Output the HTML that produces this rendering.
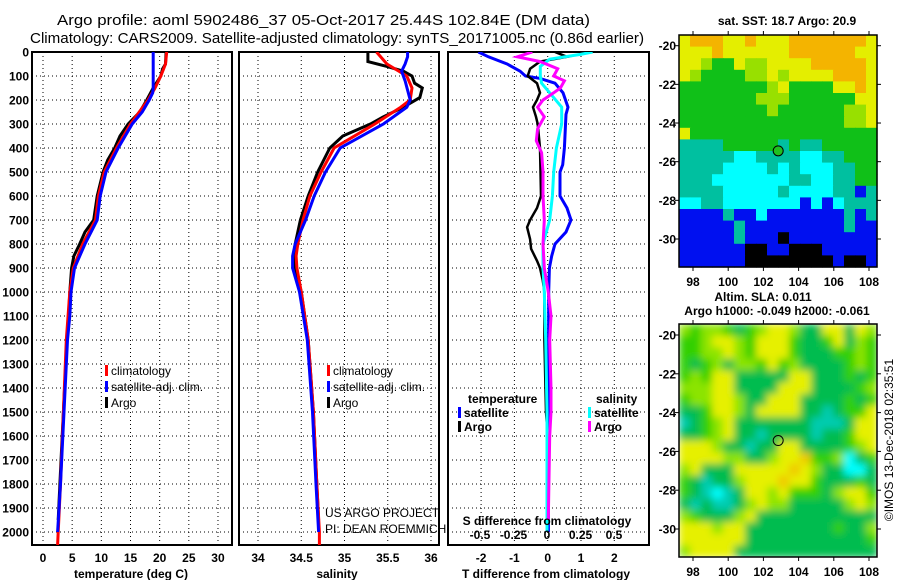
<!DOCTYPE html>
<html><head><meta charset="utf-8"><style>
html,body{margin:0;padding:0;background:#fff;}
svg{display:block;font-family:"Liberation Sans",sans-serif;}
.tk{font-weight:bold;font-size:12px;fill:#000;}
.lg{font-size:12px;fill:#000;}
</style></head><body>
<svg id="fig" width="900" height="580" viewBox="0 0 900 580" xmlns="http://www.w3.org/2000/svg">
<text x="57" y="25" font-size="14.5" textLength="533" lengthAdjust="spacingAndGlyphs">Argo profile: aoml 5902486_37 05-Oct-2017 25.44S 102.84E (DM data)</text>
<text x="30" y="43" font-size="14.5" textLength="614" lengthAdjust="spacingAndGlyphs">Climatology: CARS2009. Satellite-adjusted climatology: synTS_20171005.nc (0.86d earlier)</text>
<g id="root"></g>
</svg>
<script>
// ---- Temperature panel data ----
const tArgoD=[0,50,70,100,150,200,250,300,350,400,450,500,600,700,750,800,850,900,1000,1100,1200,1400,1600,1800,1950];
const tArgo=[21.1,21.0,20.5,20.2,18.9,17.8,16.6,14.6,13.2,12.3,11.1,10.3,9.3,8.7,7.2,6.3,5.3,4.9,4.6,4.4,4.1,3.7,3.3,2.9,2.6];
const tClimD=[0,50,100,150,200,300,400,500,600,700,800,900,1000,1200,1500,1800,2000,2054];
const tClim=[21.2,21.0,20.2,19.2,18.0,15.0,12.6,10.5,9.5,9.0,6.8,5.2,4.6,4.0,3.5,3.0,2.6,2.5];
const tSatD=[0,150,170,200,250,300,400,500,600,700,800,900,1000,1100,1200,1500,1800,2000];
const tSat=[18.9,18.9,18.8,18.2,17.0,15.3,12.9,10.8,9.8,9.3,7.2,5.4,4.8,4.6,4.2,3.6,3.0,2.5];
// ---- Salinity panel data ----
const sArgoD=[0,40,60,80,100,130,150,190,230,270,300,350,400,500,600,700,800,850,900,1000,1200,1500,1800,1950];
const sArgo=[35.27,35.27,35.49,35.68,35.78,35.81,35.9,35.87,35.68,35.45,35.3,34.98,34.83,34.69,34.58,34.49,34.43,34.41,34.43,34.5,34.58,34.64,34.68,34.7];
const sClimD=[0,50,100,150,200,230,300,400,500,600,700,800,850,900,1000,1200,1500,1800,2000,2054];
const sClim=[35.37,35.49,35.72,35.78,35.76,35.65,35.35,34.88,34.73,34.6,34.52,34.46,34.44,34.45,34.5,34.58,34.64,34.68,34.71,34.71];
const sSatD=[0,20,50,80,120,200,230,300,400,500,600,700,800,850,900,1000,1200,1500,1800,2000];
const sSat=[35.73,35.73,35.7,35.66,35.7,35.76,35.72,35.45,34.95,34.78,34.65,34.55,34.43,34.40,34.40,34.48,34.57,34.63,34.67,34.7];
// ---- Difference panel data ----
const dTSatD=[0,20,50,80,100,110,130,170,230,260,400,470,500,600,650,700,750,800,850,900,1000,1500,2000];
const dTSat=[-2.08,-1.78,-1.22,-0.83,-0.67,-0.23,0.22,0.46,0.61,0.55,0.5,0.45,0.37,0.37,0.58,0.7,0.55,0.22,0.12,0.05,0.03,0.02,0.02];
const dTArgoD=[0,20,40,70,100,130,170,200,230,270,300,400,600,650,700,730,780,820,870,900,950,1000,1200,1500,1600,1950];
const dTArgo=[0.22,0.58,-0.23,-0.53,-0.6,-0.32,-0.23,-0.32,-0.44,-0.35,-0.3,-0.23,-0.2,-0.32,-0.53,-0.62,-0.53,-0.5,-0.32,-0.23,-0.15,-0.1,-0.1,-0.05,0,0];
const dSSatD=[0,10,30,60,100,130,170,230,300,400,500,600,700,800,900,1000,1200,1500,2000];
const dSSat=[0.34,0.25,0.02,-0.05,-0.05,-0.04,0.02,0.11,0.11,0.07,0.05,0.04,0.02,-0.03,-0.03,-0.02,-0.01,0,0];
const dSArgoD=[0,20,40,70,100,120,150,170,200,230,270,320,370,420,500,600,700,800,900,1000,1100,1200,1400,1500,1600,1950];
const dSArgo=[-0.11,-0.22,-0.05,0.08,0.05,0.13,0.1,0.05,-0.03,-0.07,-0.02,-0.07,-0.08,-0.04,-0.03,-0.03,-0.02,-0.03,-0.02,0.01,0.03,0.02,0.03,0.03,0.02,0.01];
// ---- ticks ----
const depthTicks=[0,100,200,300,400,500,600,700,800,900,1000,1100,1200,1300,1400,1500,1600,1700,1800,1900,2000];
const tTicks=[0,5,10,15,20,25,30];
const sTicks=[34,34.5,35,35.5,36];
const sTickLabels=["34","34.5","35","35.5","36"];
const dTTicks=[-2,-1,0,1,2];
const dSTicks=[-0.5,-0.25,0,0.25,0.5];
const dSTickLabels=["-0.5","-0.25","0","0.25","0.5"];
const latTicks=[-20,-22,-24,-26,-28,-30];
const lonTicks=[98,100,102,104,106,108];
const argoLon=102.84, argoLat=-25.44;
// ---- map grids (colour class per cell) ----
const sstGrid=[
"yoooyyoyyyoooooooy","yyyoyyyyyyooooooyy","yylggyllyyyyoooooy","ylggggllylyyyyoooy",
"gggggggglyggggyyoy","ggggggglllggggggyy","gggggggglgggggglly","ggggggggggggggglly",
"yggggggggggggggggg","ttttgggggtgttggggg","tttttccttttccttggg","ttttcccctctcccttgg",
"tttcccccccttccttgg","ttttccccctccccttbt","ccttcccccccbcbcttt","bbbbtbbcbbbbbbbtbt",
"bbbbbtbbbbbbbbbtbb","bbbbbtbbbkbbbbbbbb","bbbbbbkkbbkkkbbbbb","bbbbbbkkkkkkkkbkkb"];
const slaGrid=[
"lgllgGglyylGGyyGyl","gglyylgyyygGGgyGlg","ggllylgyyygGGGgglg","gGglGllgyglGGGGglg",
"glgyyGGGGGyyGGGgGg","lllyyGGGGyyyGGGGgl","gllyylGGyyyGGGGgGg","GGgyylGyyyyGGtGggy",
"tGglyGGGGGGGtttGyy","GGglyGGtGGGGtGGgyy","yyylGGtGGyyGGGGgly","yyyyllGGlyyogglcGg",
"lyGGGyyyyyoylGGccG","gGtGGlyyyoyygGGGgG","gGtctGyylygggGlyyg","GtGttGlyllGGGGGlyl",
"lgGGGlyGGGGGGGGGGG","yyylyyGGGGGGGGgGGl","yyyyyyGGGGGGGGGGGg","lyyyyGGGGGGGGGGGGG"];
const sstCol={o:"#f4b400",y:"#e4ee00",l:"#98e000",g:"#10c018",t:"#00c0a0",c:"#00ffff",b:"#0010f0",k:"#000000"};
const slaCol={o:"#f0c800",y:"#e6f000",l:"#8ce400",g:"#30d000",G:"#00bc50",t:"#00ccb0",c:"#00ffff"};

const NS="http://www.w3.org/2000/svg";
const root=document.getElementById('root');
function mk(tag,attrs,parent){const e=document.createElementNS(NS,tag);for(const k in attrs)e.setAttribute(k,attrs[k]);(parent||root).appendChild(e);return e;}
// axis functions
const yD=d=>52+d*0.24;
const xT=v=>43+v*5.833;
const xS=v=>258+(v-34)*86.5;
const xDT=v=>547.7+v*33.3;
const xDS=v=>547+v*134;
const PY0=52,PY1=545;

// clip paths
const defs=mk('defs',{});
[["c1",32,232],["c2",239,439],["c3",448,649]].forEach(([id,a,b])=>{const cp=mk('clipPath',{id:id},defs);mk('rect',{x:a,y:PY0,width:b-a,height:PY1-PY0},cp);});
const bl=mk('filter',{id:'blur',x:'0',y:'0',width:'1',height:'1'},defs);mk('feGaussianBlur',{stdDeviation:'4'},bl);
const cpm=mk('clipPath',{id:'cm2'},defs);mk('rect',{x:679,y:324,width:198,height:233},cpm);

function panel(name,x0,x1,vgrid){
  const g=mk('g',{});
  
  
  depthTicks.forEach(d=>{const l=mk('line',{x1:x0,x2:x1,y1:yD(d),y2:yD(d),stroke:'#000','stroke-dasharray':'1,3','stroke-width':1},g);
    
    });
  vgrid.forEach(x=>{const l=mk('line',{x1:x,x2:x,y1:PY0,y2:PY1,stroke:'#000','stroke-dasharray':'1,3','stroke-width':1},g);
    
    });
  const r=mk('rect',{x:x0,y:PY0,width:x1-x0,height:PY1-PY0,fill:'none',stroke:'#000','stroke-width':2},g);
  
  
  return g;
}
function line(name,D,V,fx,col,w,clip){
  const pts=D.map((d,i)=>fx(V[i]).toFixed(1)+','+yD(d).toFixed(1)).join(' ');
  const p=mk('polyline',{points:pts,fill:'none',stroke:col,'stroke-width':w,'stroke-linejoin':'miter','clip-path':'url(#'+clip+')'});
  
  
}
function txt(name,x,y,s,cls,anchor,extra){
  const t=mk('text',Object.assign({x:x,y:y,'class':cls,'text-anchor':anchor||'start'},extra||{}));
  t.textContent=s;
  
  
  return t;
}
function legendEntry(name,x,y,col,s,bold){
  const r=mk('rect',{x:x,y:y-10,width:3,height:11,fill:col});
  
  
  txt(name,x+6,y,s,bold?'tk':'lg');
}

// Panel 1: temperature
panel('temperature-panel',32,232,tTicks.map(xT));
line('temp-argo',tArgoD,tArgo,xT,'#000',3,'c1');
line('temp-climatology',tClimD,tClim,xT,'#ff0000',3,'c1');
line('temp-satellite-adj',tSatD,tSat,xT,'#0000ff',3,'c1');
depthTicks.forEach(d=>txt('depth-tick-label',29,yD(d)+4.5,String(d),'tk','end'));
tTicks.forEach(v=>txt('temp-tick-label',xT(v),562,String(v),'tk','middle'));
txt('x-axis-title-temperature',131,578,'temperature (deg C)','tk','middle');
legendEntry('legend-climatology',105,375,'#ff0000','climatology');
legendEntry('legend-satellite-adj',105,391,'#0000ff','satellite-adj. clim.');
legendEntry('legend-argo',105,407,'#000','Argo');

// Panel 2: salinity
panel('salinity-panel',239,439,sTicks.map(xS));
line('sal-argo',sArgoD,sArgo,xS,'#000',3,'c2');
line('sal-climatology',sClimD,sClim,xS,'#ff0000',3,'c2');
line('sal-satellite-adj',sSatD,sSat,xS,'#0000ff',3,'c2');
sTicks.forEach((v,i)=>txt('sal-tick-label',xS(v),562,sTickLabels[i],'tk','middle'));
txt('x-axis-title-salinity',337,578,'salinity','tk','middle');
legendEntry('legend-climatology-sal',327,375,'#ff0000','climatology');
legendEntry('legend-satellite-adj-sal',327,391,'#0000ff','satellite-adj. clim.');
legendEntry('legend-argo-sal',327,407,'#000','Argo');
txt('credit-project',325,517,'US ARGO PROJECT','lg','start',{fill:'#222'});
txt('credit-pi',325,533,'PI: DEAN ROEMMICH','lg','start',{fill:'#222'});

// Panel 3: differences
panel('difference-panel',448,649,dTTicks.map(xDT));
line('dt-satellite',dTSatD,dTSat,xDT,'#0000ff',3,'c3');
line('dt-argo',dTArgoD,dTArgo,xDT,'#000',2.5,'c3');
line('ds-satellite',dSSatD,dSSat,xDS,'#00ffff',3,'c3');
line('ds-argo',dSArgoD,dSArgo,xDS,'#ff00ff',3,'c3');
dTTicks.forEach(v=>txt('dt-tick-label',xDT(v),562,String(v),'tk','middle'));
dSTicks.forEach((v,i)=>txt('ds-tick-label',xDS(v),539,dSTickLabels[i],'tk','middle'));
txt('ds-axis-title',547,525,'S difference from climatology','tk','middle');
txt('dt-axis-title',546,578,'T difference from climatology','tk','middle');
txt('legend-title-temperature',468,403,'temperature','tk');
legendEntry('legend-dt-satellite',458,417,'#0000ff','satellite',true);
legendEntry('legend-dt-argo',458,431,'#000','Argo',true);
txt('legend-title-salinity',596,403,'salinity','tk');
legendEntry('legend-ds-satellite',588,417,'#00ffff','satellite',true);
legendEntry('legend-ds-argo',588,431,'#ff00ff','Argo',true);

// Maps
function map(name,grid,cols,x0,y0,w,h,blur,latY){
  const g=mk('g',blur?{filter:'url(#blur)','clip-path':'url(#cm2)'}:{});
  
  
  const nr=grid.length,nc=grid[0].length,cw=w/nc,ch=h/nr;
  grid.forEach((row,r)=>{for(let c=0;c<nc;c++){
    const cell=mk('rect',{x:(x0+c*cw).toFixed(2),y:(y0+r*ch).toFixed(2),width:(cw+0.6).toFixed(2),height:(ch+0.6).toFixed(2),fill:cols[row[c]]},g);
    
    }});
  const f=mk('rect',{x:x0,y:y0,width:w,height:h,fill:'none',stroke:'#000','stroke-width':1.5});
  
  
  const xLon=v=>693+(v-98)*17.6;
  latTicks.forEach(v=>{const yy=latY(v);mk('line',{x1:x0-4,x2:x0,y1:yy,y2:yy,stroke:'#000'});mk('line',{x1:x0+w,x2:x0+w+4,y1:yy,y2:yy,stroke:'#000'});
    txt('lat-tick-label',x0-3,yy+4.5,String(v),'tk','end');});
  lonTicks.forEach(v=>{const xx=xLon(v);mk('line',{x1:xx,x2:xx,y1:y0+h,y2:y0+h+4,stroke:'#000'});mk('line',{x1:xx,x2:xx,y1:y0-4,y2:y0,stroke:'#000'});
    txt('lon-tick-label',xx,y0+h+19,String(v),'tk','middle');});
  return {xLon};
}
const lat1=v=>45.7+(-v-20)*19.33;
const lat2=v=>335+(-v-20)*19.4;
const m1=map('sst-map',sstGrid,sstCol,679,35,198,232,false,lat1);
const c1=mk('circle',{cx:m1.xLon(argoLon),cy:lat1(argoLat),r:5,fill:'#20c020',stroke:'#000','stroke-width':1});


txt('sst-map-title',787,25,'sat. SST: 18.7 Argo: 20.9','tk','middle');
const m2=map('sla-map',slaGrid,slaCol,679,324,198,233,true,lat2);
const c2=mk('circle',{cx:m2.xLon(argoLon),cy:lat2(argoLat),r:5,fill:'none',stroke:'#000','stroke-width':1});


txt('sla-map-title',763,301,'Altim. SLA: 0.011','tk','middle');
txt('sla-map-subtitle',777,315,'Argo h1000: -0.049 h2000: -0.061','tk','middle');
txt('imos-timestamp',0,0,'©IMOS 13-Dec-2018 02:35:51','lg','middle',{transform:'translate(893,440) rotate(-90)','font-size':'13'});
</script>
</body></html>
